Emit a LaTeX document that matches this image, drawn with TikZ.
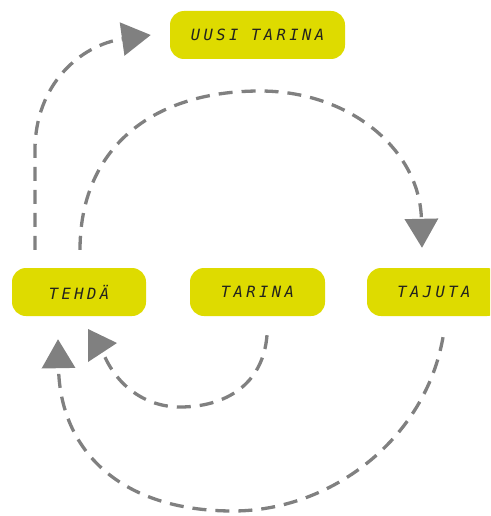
\documentclass[tikz,border=0pt]{standalone}
\usepackage{fontspec}
\usetikzlibrary{arrows.meta}
\newfontfamily\boxfont{DejaVu Sans Mono}[LetterSpace=22]
\definecolor{boxyellow}{RGB}{222,219,0}
\definecolor{conngray}{RGB}{128,128,128}
\definecolor{txtdark}{RGB}{35,35,30}
\tikzset{
  labelbox/.style={fill=boxyellow, rounded corners=14pt, minimum height=48pt, inner sep=0pt,
    text=txtdark, font=\boxfont\itshape\fontsize{15.5}{18}\selectfont},
  conn/.style={draw=conngray, line width=3.3pt, dash pattern=on 14pt off 9pt},
  tip/.style={-{Triangle[length=29pt,width=33pt]}},
  headfill/.style={fill=conngray}
}
\begin{document}
\begin{tikzpicture}[x=1pt,y=-1pt]
\useasboundingbox (0,0) rectangle (490,516);
\begin{scope}
\clip (0,0) rectangle (490,516);
\node[labelbox, minimum width=175pt] (uusi) at (257.5,35) {UUSI TARINA};
\node[labelbox, minimum width=134pt] (tehda) at (79,292) {TEHDÄ};
\node[labelbox, minimum width=135pt] (tarina) at (257.5,292) {TARINA};
\node[labelbox, minimum width=134pt] (tajuta) at (434,292) {TAJUTA};
\end{scope}
% TEHDÄ -> UUSI TARINA
\draw[conn, tip] ([xshift=-44pt,yshift=18pt]tehda.north) -- (35,150)
  .. controls (35,85) and (80,45) .. ([xshift=-19pt]uusi.west);
% TEHDÄ -> TAJUTA
\draw[conn, tip] ([xshift=1pt,yshift=18pt]tehda.north)
  .. controls (80,150) and (150,91) .. (260,91)
  .. controls (350,91) and (420,150) .. ([xshift=-12pt,yshift=20pt]tajuta.north);
% TARINA -> TEHDÄ
\coordinate (a3end) at (102,350);
\draw[conn] ([xshift=9.5pt,yshift=-19pt]tarina.south)
  .. controls (263,385) and (225,407) .. (180,407)
  .. controls (145,407) and (115,385) .. (a3end);
\fill[headfill] (88,329) -- (88,362) -- (117,343) -- cycle;
% TAJUTA -> TEHDÄ
\draw[conn, tip] ([xshift=9pt,yshift=-21pt]tajuta.south)
  .. controls (425,440) and (330,511) .. (233,511)
  .. controls (120,511) and (60,450) .. ([xshift=-21pt,yshift=-23pt]tehda.south);
\end{tikzpicture}
\end{document}
